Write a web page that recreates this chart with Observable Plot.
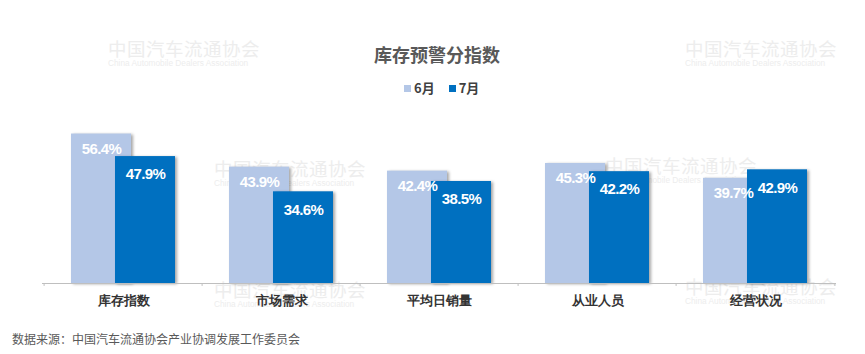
<!DOCTYPE html>
<html>
<head>
<meta charset="utf-8">
<script src="https://cdn.jsdelivr.net/npm/d3@7"></script>
<script src="https://cdn.jsdelivr.net/npm/@observablehq/plot@0.6"></script>
<style>
  body { margin: 0; background: #fff; font-family: "Noto Sans CJK SC", "Noto Sans", sans-serif; }
  #wrap { position: relative; width: 865px; height: 354px; overflow: hidden; }
  .wm { position: absolute; color: #ededed; white-space: nowrap; z-index: 0; }
  .wm .cn { font-size: 18.5px; letter-spacing: 0.5px; line-height: 20px; }
  .wm .en { font-family: "Liberation Sans", sans-serif; font-size: 8.3px; line-height: 10px; }
  #title { position: absolute; left: 0; width: 874px; top: 41px; text-align: center; font-size: 18px; font-weight: bold; color: #595959; z-index: 2; }
  #legend { position: absolute; top: 78px; left: 404px; font-size: 13px; font-weight: bold; color: #404040; z-index: 2; display: flex; gap: 14px; }
  #legend span.sw { display: inline-block; width: 7px; height: 7px; margin-right: 3px; vertical-align: 1px; }
  #chart { position: absolute; left: 0; top: 0; z-index: 1; }
  #source { position: absolute; left: 12px; top: 330px; font-size: 12px; color: #595959; z-index: 2; }
</style>
</head>
<body>
<div id="wrap">
  <div class="wm" style="left:108px;top:38px"><div class="cn">中国汽车流通协会</div><div class="en">China Automobile Dealers Association</div></div>
  <div class="wm" style="left:685px;top:38px"><div class="cn">中国汽车流通协会</div><div class="en">China Automobile Dealers Association</div></div>
  <div class="wm" style="left:214px;top:158px"><div class="cn">中国汽车流通协会</div><div class="en">China Automobile Dealers Association</div></div>
  <div class="wm" style="left:605px;top:155px"><div class="cn">中国汽车流通协会</div><div class="en">China Automobile Dealers Association</div></div>
  <div class="wm" style="left:214px;top:279px"><div class="cn">中国汽车流通协会</div><div class="en">China Automobile Dealers Association</div></div>
  <div class="wm" style="left:685px;top:276px"><div class="cn">中国汽车流通协会</div><div class="en">China Automobile Dealers Association</div></div>
  <div id="title">库存预警分指数</div>
  <div id="legend"></div>
  <div id="chart"></div>
  <div id="source">数据来源：中国汽车流通协会产业协调发展工作委员会</div>
</div>
<script>
const categories = ["库存指数", "市场需求", "平均日销量", "从业人员", "经营状况"];
const seriesNames = ["6月", "7月"];
const june = [56.4, 43.9, 42.4, 45.3, 39.7];
const july = [47.9, 34.6, 38.5, 42.2, 42.9];
const colors = ["#b4c7e7", "#0070c0"];

const d6 = categories.map((c, i) => ({cat: c, v: june[i]}));
const d7 = categories.map((c, i) => ({cat: c, v: july[i]}));
const fmt = d => d.v.toFixed(1) + "%";
const labelFont = "'Liberation Sans', Arial, sans-serif";

const legend = document.getElementById("legend");
seriesNames.forEach((s, i) => {
  const el = document.createElement("div");
  el.innerHTML = `<span class="sw" style="background:${colors[i]}"></span>${s}`;
  legend.appendChild(el);
});

const chart = Plot.plot({
  width: 865,
  height: 320,
  marginTop: 124,
  marginBottom: 37,
  marginLeft: 42,
  marginRight: 29,
  style: {background: "transparent", overflow: "visible"},
  x: {domain: categories, paddingInner: 0.622, paddingOuter: 0.311, label: null},
  y: {domain: [0, 60], axis: null},
  marks: [
    Plot.barY(d6, {x: "cat", y: "v", fill: colors[0], dx: -22}),
    Plot.barY(d7, {x: "cat", y: "v", fill: colors[1], dx: 22}),
    Plot.ruleY([0], {stroke: "#bfbfbf", strokeWidth: 1.2}),
    Plot.ruleX(categories, {x: d => d, y1: 0, y2: -1.1, dx: -79.4, stroke: "#bfbfbf"}),
    Plot.ruleX(categories.slice(-1), {x: d => d, y1: 0, y2: -1.1, dx: 79.4, stroke: "#bfbfbf"}),
    Plot.text(d6, {x: "cat", y: "v", text: fmt, dx: -22, dy: 15, fill: "white", fontSize: 15, fontWeight: "bold", fontFamily: labelFont}),
    Plot.text(d7, {x: "cat", y: "v", text: fmt, dx: 22, dy: 18, fill: "white", fontSize: 15, fontWeight: "bold", fontFamily: labelFont}),
    Plot.axisX({tickSize: 0, tickPadding: 12, fontSize: 13, fontWeight: "bold", fill: "#333", label: null})
  ]
});
d3.select(chart).selectAll("g[aria-label='bar'] rect")
  .style("filter", "drop-shadow(2px 1px 1.5px rgba(0,0,0,0.35))");
d3.select(chart).selectAll("g[aria-label='text'] text")
  .style("letter-spacing", "-0.6px");
document.getElementById("chart").appendChild(chart);
</script>
</body>
</html>
